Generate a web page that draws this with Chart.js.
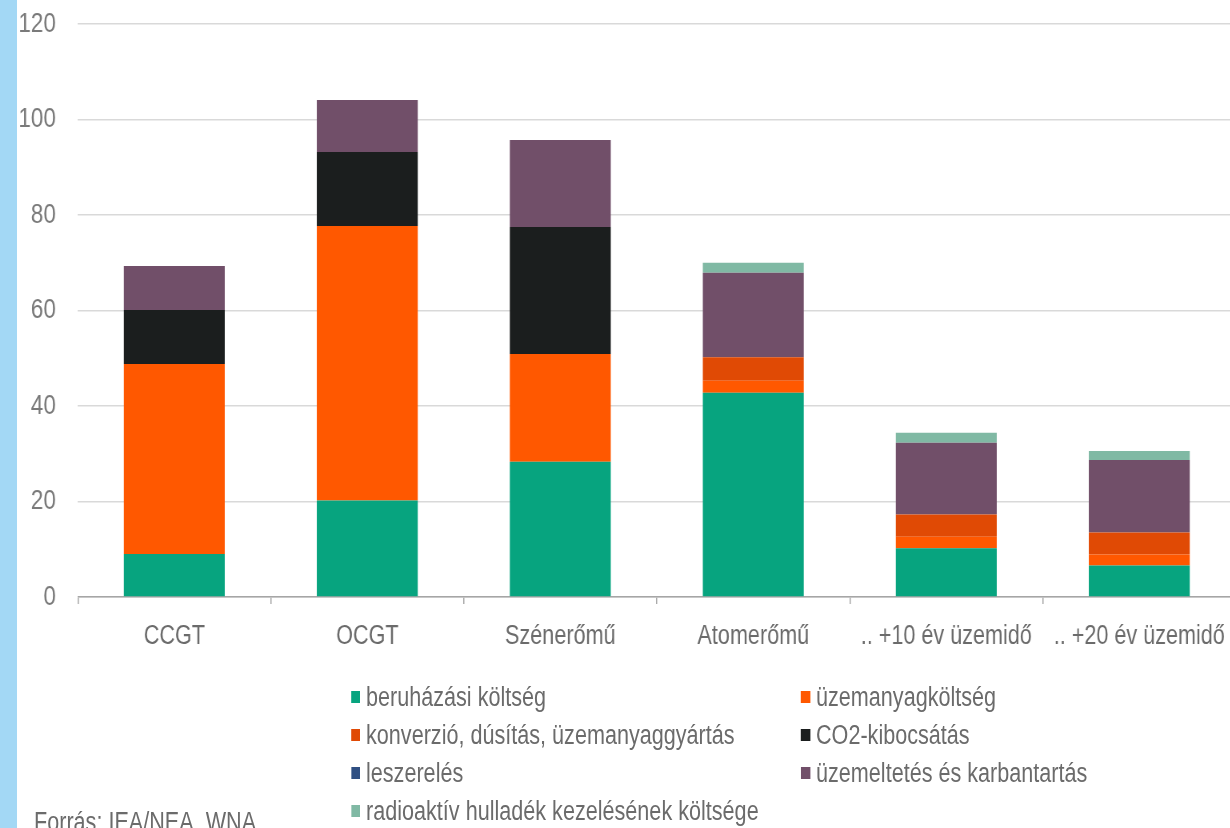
<!DOCTYPE html>
<html>
<head>
<meta charset="utf-8">
<script src="https://cdn.jsdelivr.net/npm/chart.js@4.4.1/dist/chart.umd.min.js"></script>
<style>
    html, body { margin: 0; padding: 0; background: #fff; overflow: hidden; width: 1230px; height: 828px; }
    #strip { position: absolute; left: 0; top: 0; width: 17px; height: 828px; background: #a3d8f5; z-index: 2; }
    /* the original picture is squeezed sideways, so the whole page is drawn wider and scaled down */
    #page { position: absolute; left: 0; top: 0; width: 1550px; height: 828px; transform: scaleX(0.8); transform-origin: 0 0; }
    #wrap { position: absolute; top: 0; height: 828px; }
    .lg { position: absolute; font-family: 'Liberation Sans', Arial, sans-serif; font-size: 27px; color: #6b6b6b; white-space: nowrap; line-height: 30px; }
    .lg i { position: absolute; left: 0; top: 9px; height: 12px; }
    .lg span { position: absolute; top: 0; }
    #src { position: absolute; top: 807px; font-family: 'Liberation Sans', Arial, sans-serif; font-size: 27px; color: #6b6b6b; white-space: nowrap; }
</style>
</head>
<body>
<div id="strip"></div>
<div id="page">
    <div id="wrap"><canvas id="costChart"></canvas></div>
    <div id="legend"></div>
    <div id="src">Forrás: IEA/NEA, WNA</div>
</div>
<script>
const categories = ['CCGT', 'OCGT', 'Szénerőmű', 'Atomerőmű', '.. +10 év üzemidő', '.. +20 év üzemidő'];
const yTicks = [0, 20, 40, 60, 80, 100, 120];

const beruhazasi = [9.0, 20.2, 28.3, 42.8, 10.2, 6.6];
const uzemanyag = [39.8, 57.5, 22.6, 2.5, 2.4, 2.3];
const konverzio = [0, 0, 0, 4.9, 4.7, 4.6];
const co2 = [11.3, 15.5, 26.6, 0, 0, 0];
const leszereles = [0, 0, 0, 0, 0, 0];
const uzemeltetes = [9.2, 10.9, 18.2, 17.7, 15.0, 15.2];
const radioaktiv = [0, 0, 0, 2.1, 2.1, 1.9];

const S = 0.8; // horizontal squeeze of #page
const sx = px => px / S; // screen px -> page px
const FONT = "'Liberation Sans', Arial, sans-serif";

const datasets = [
    { label: 'beruházási költség', data: beruhazasi, backgroundColor: '#07a47f' },
    { label: 'üzemanyagköltség', data: uzemanyag, backgroundColor: '#ff5800' },
    { label: 'konverzió, dúsítás, üzemanyaggyártás', data: konverzio, backgroundColor: '#e04a05' },
    { label: 'CO2-kibocsátás', data: co2, backgroundColor: '#1b1e1e' },
    { label: 'leszerelés', data: leszereles, backgroundColor: '#2f4f82' },
    { label: 'üzemeltetés és karbantartás', data: uzemeltetes, backgroundColor: '#714f69' },
    { label: 'radioaktív hulladék kezelésének költsége', data: radioaktiv, backgroundColor: '#80b9a4' }
];
datasets.forEach(d => {
    d.barPercentage = 0.523;
    d.categoryPercentage = 1;
    d.borderWidth = 0;
});

const wrap = document.getElementById('wrap');
wrap.style.left = sx(17) + 'px';
wrap.style.width = sx(1240) + 'px';
document.getElementById('src').style.left = sx(34) + 'px';

// legend in two columns, filled row by row like the original
const legendEl = document.getElementById('legend');
datasets.forEach((d, i) => {
    const item = document.createElement('div');
    item.className = 'lg';
    item.style.left = sx(i % 2 === 0 ? 351 : 801) + 'px';
    item.style.top = (682 + Math.floor(i / 2) * 38) + 'px';
    item.innerHTML = `<i style="background:${d.backgroundColor};width:${sx(9)}px"></i><span style="left:${sx(15)}px">${d.label}</span>`;
    legendEl.appendChild(item);
});

new Chart(document.getElementById('costChart'), {
    type: 'bar',
    data: { labels: categories, datasets: datasets },
    options: {
        responsive: true,
        maintainAspectRatio: false,
        animation: false,
        layout: { padding: { top: 24, right: sx(21), left: 0, bottom: 0 } },
        plugins: { legend: { display: false }, tooltip: { enabled: false } },
        scales: {
            x: {
                stacked: true,
                afterFit: scale => { scale.height = 231; },
                grid: { offset: true, drawOnChartArea: false, drawTicks: true, tickLength: 7, color: '#a6a6a6', lineWidth: 1.5 },
                border: { color: '#a6a6a6', width: 1.5 },
                ticks: { color: '#6b6b6b', padding: 16, maxRotation: 0, autoSkip: false, font: { family: FONT, size: 27 } }
            },
            y: {
                stacked: true,
                min: 0,
                max: 120,
                afterFit: scale => {
                    scale.width = sx(61);
                    scale.paddingTop = 0; // keep the top gridline where the original has it
                },
                afterBuildTicks: scale => { scale.ticks = yTicks.map(v => ({ value: v })); },
                grid: { drawTicks: false, color: '#d9d9d9', lineWidth: 1.5 },
                border: { display: false },
                ticks: { color: '#7a7a7a', padding: sx(22), font: { family: FONT, size: 28 } }
            }
        }
    }
});
</script>
</body>
</html>
